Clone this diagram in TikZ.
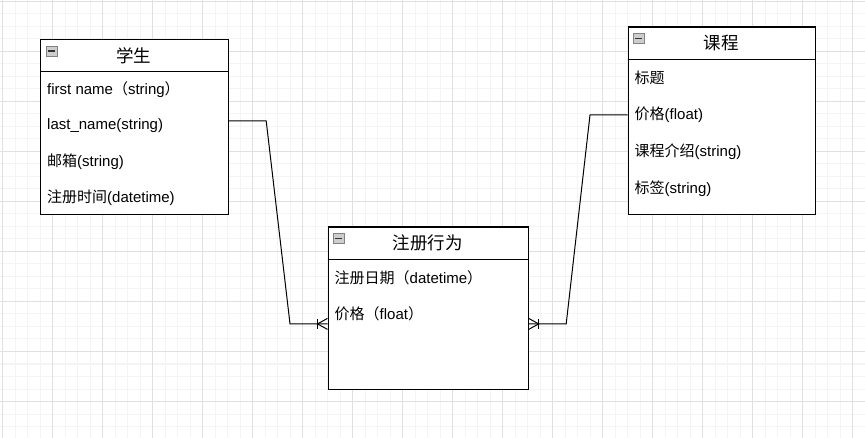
\documentclass[tikz,border=0pt]{standalone}
\usepackage{fontspec}
\setmainfont{Liberation Sans}
\newfontfamily\cjk{Noto Sans CJK SC}
\usepackage{tikz}
\usetikzlibrary{calc}
\definecolor{GridMinor}{RGB}{244,244,244}
\definecolor{GridMajor}{RGB}{224,224,224}
\definecolor{IconFill}{RGB}{205,205,205}
\definecolor{IconLine}{RGB}{130,130,130}
\newcommand\zh[1]{{\cjk #1}}
% bar + crow's foot at a box edge, #2 = -1 left side, 1 right side
\newcommand\crowfoot[2]{%
    \draw[link] ($(#1)+(#2*10,-5)$) -- ++(0,10);
    \draw[link] ($(#1)+(0,-5.5)$) -- ($(#1)+(#2*10,0)$) -- ($(#1)+(0,5.5)$);
}
\tikzset{
    entity/.style = {draw, line width=1.2pt, fill=white, anchor=north west, inner sep=0pt},
    head/.style = {anchor=north west, minimum height=32.5, inner sep=0pt,
        font=\cjk\fontsize{17.5}{20}\selectfont},
    item/.style = {anchor=west, inner sep=0pt, font=\fontsize{15}{18}\selectfont},
    icon/.style = {draw=IconLine, fill=IconFill, anchor=north west, minimum width=11,
        minimum height=10, inner sep=0pt,
        path picture={\draw[line width=1.5pt, black!80]
            ([xshift=2pt]path picture bounding box.west) -- ([xshift=-2pt]path picture bounding box.east);}},
    link/.style = {line width=1pt},
}

\begin{document}
\begin{tikzpicture}[x=1pt, y=-1pt]
    \useasboundingbox (0,0) rectangle (865,438);
    \fill[white] (0,0) rectangle (865,438);
    % Grid
    \foreach \i in {0,...,69}
        \draw[GridMinor, line width=1pt] (2.5+12.5*\i,0) -- (2.5+12.5*\i,438);
    \foreach \j in {0,...,35}
        \draw[GridMinor, line width=1pt] (0,1.5+12.5*\j) -- (865,1.5+12.5*\j);
    \foreach \i in {0,...,17}
        \draw[GridMajor, line width=1pt] (2.5+50*\i,0) -- (2.5+50*\i,438);
    \foreach \j in {0,...,8}
        \draw[GridMajor, line width=1pt] (0,1.5+50*\j) -- (865,1.5+50*\j);

    % Student
    \node[entity, minimum width=187.5, minimum height=175] (stu) at (40,39) {};
    \node[head, minimum width=187.5] (stuH) at (stu.north west) {学生};
    \draw[line width=1.2pt] (stuH.south west) -- (stuH.south east);
    \node[icon] (stuI) at ($(stuH.north west)+(5.5,7)$) {};
    \foreach \t [count=\i] in {{first name\zh{（}string\zh{）}}, {last\_name(string)},
        {\zh{邮箱}(string)}, {\zh{注册时间}(datetime)}}
        \node[item] (stu\i) at ($(stuH.south west)+(7,{36*\i-18.5})$) {\t};

    % Course
    \node[entity, minimum width=187.5, minimum height=187.5] (cou) at (627.5,26.5) {};
    \node[head, minimum width=187.5] (couH) at (cou.north west) {课程};
    \draw[line width=1.2pt] (couH.south west) -- (couH.south east);
    \node[icon] (couI) at ($(couH.north west)+(5.5,7)$) {};
    \foreach \t [count=\i] in {{\zh{标题}}, {\zh{价格}(float)},
        {\zh{课程介绍}(string)}, {\zh{标签}(string)}}
        \node[item] (cou\i) at ($(couH.south west)+(7,{37*\i-18.5})$) {\t};

    % Enrollment
    \node[entity, minimum width=200, minimum height=162.5] (enr) at (327.5,226.5) {};
    \node[head, minimum width=200] (enrH) at (enr.north west) {注册行为};
    \draw[line width=1.2pt] (enrH.south west) -- (enrH.south east);
    \node[icon] (enrI) at ($(enrH.north west)+(5.5,7)$) {};
    \foreach \t [count=\i] in {{\zh{注册日期（}datetime\zh{）}}, {\zh{价格（}float\zh{）}}}
        \node[item] (enr\i) at ($(enrH.south west)+(7,{36*\i-18})$) {\t};

    % Relations
    \coordinate (stuOut) at ($(stu2 -| stu.east)+(0,-4.5)$);
    \coordinate (couOut) at (cou2 -| cou.west);
    \coordinate (enrInL) at ($(enr2 -| enr.west)+(0,10.5)$);
    \coordinate (enrInR) at ($(enr2 -| enr.east)+(0,10.5)$);
    \draw[link] (stuOut) -- ++(37.5,0) -- ($(enrInL)+(-37.5,0)$) -- (enrInL);
    \draw[link] (couOut) -- ++(-37.5,0) -- ($(enrInR)+(37.5,0)$) -- (enrInR);
    \crowfoot{enrInL}{-1}
    \crowfoot{enrInR}{1}
\end{tikzpicture}
\end{document}
